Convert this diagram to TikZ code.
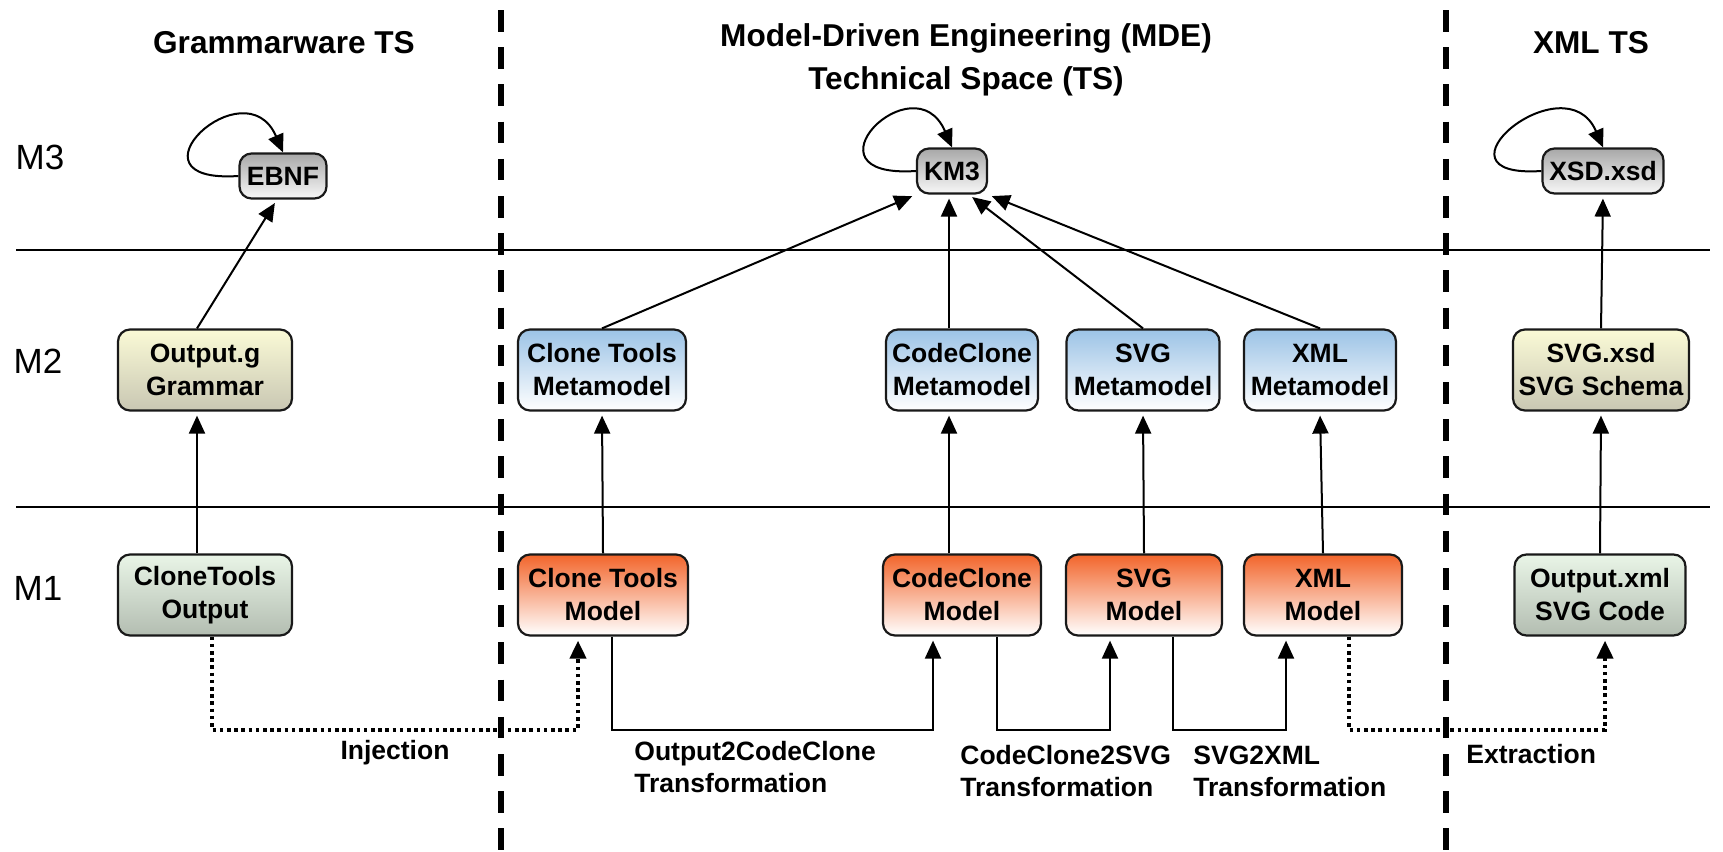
\documentclass[tikz,border=0pt]{standalone}
\usepackage{fontspec}
\setmainfont{Liberation Sans}
\usetikzlibrary{arrows.meta}
\definecolor{mmblue}{HTML}{9CC3E6}
\definecolor{mdorange}{HTML}{F2652B}
\definecolor{gtop}{HTML}{A8A8A8}
\definecolor{ytop}{HTML}{FAFAD6}
\definecolor{ybot}{HTML}{C9C7B3}
\definecolor{ntop}{HTML}{E9F5E7}
\definecolor{nbot}{HTML}{B3BDB1}
\tikzset{box/.style={draw=black!90, line width=1.1pt, rounded corners=6pt,
  align=center, inner sep=1pt, minimum height=40.5pt,
  font=\bfseries\fontsize{13.25}{16.5}\selectfont}}
\tikzset{topbox/.style={box, minimum height=22.5pt, top color=gtop, bottom color=white!97!black}}
\tikzset{metabox/.style={box, top color=mmblue, bottom color=white}}
\tikzset{modelbox/.style={box, top color=mdorange, bottom color=white}}
\tikzset{grambox/.style={box, top color=ytop, bottom color=ybot}}
\tikzset{codebox/.style={box, top color=ntop, bottom color=nbot}}
\tikzset{arr/.style={->, line width=1pt, shorten >=2pt}}
\tikzset{dotarr/.style={->, line width=2pt, dash pattern=on 1.8pt off 1.8pt, shorten >=2pt}}
\tikzset{tsline/.style={line width=2.8pt, dash pattern=on 10.8pt off 7.8pt}}
\tikzset{sepline/.style={line width=0.8pt}}
\tikzset{ttl/.style={font=\bfseries\fontsize{15.8}{21.5}\selectfont, align=center, inner sep=0pt}}
\tikzset{lvl/.style={font=\fontsize{17.5}{20}\selectfont, inner sep=0pt}}
\tikzset{lbl/.style={font=\bfseries\fontsize{13.25}{16}\selectfont, align=left, inner sep=0pt}}

\begin{document}
\begin{tikzpicture}[x=0.5pt, y=-0.5pt, >={Triangle[length=9pt,width=8pt]}]
      \useasboundingbox (0,0) rectangle (1723,851);

      \draw [sepline] (16,250) -- (1710,250);
      \draw [sepline] (16,507) -- (1710,507);
      \draw [tsline] (501,10) -- (501,851);
      \draw [tsline] (1446,10) -- (1446,851);

      \node [ttl] (gts) at (284,43) {Grammarware TS};
      \node [ttl] (mts) at (966,60) {Model-Driven Engineering (MDE)\\Technical Space (TS)};
      \node [ttl] (xts) at (1591,43) {XML TS};

      \node [lvl] (m3) at (40,157) {M3};
      \node [lvl] (m2) at (38,361) {M2};
      \node [lvl] (m1) at (38,588) {M1};

      \node [topbox, minimum width=43.5pt] (ebnf) at (283,176) {EBNF};
      \node [topbox, minimum width=35pt] (km3) at (952,171) {KM3};
      \node [topbox, minimum width=60.5pt] (xsd) at (1603,171) {XSD.xsd};

      \node [grambox, minimum width=87pt] (og) at (205,370) {Output.g\\Grammar};
      \node [metabox, minimum width=84pt] (ctmm) at (602,370) {Clone Tools\\Metamodel};
      \node [metabox, minimum width=76pt] (ccmm) at (962,370) {CodeClone\\Metamodel};
      \node [metabox, minimum width=76.5pt] (svgmm) at (1143,370) {SVG\\Metamodel};
      \node [metabox, minimum width=76pt] (xmlmm) at (1320,370) {XML\\Metamodel};
      \node [grambox, minimum width=88pt] (svgxsd) at (1601,370) {SVG.xsd\\SVG Schema};

      \node [codebox, minimum width=87pt] (cto) at (205,595) {CloneTools\\Output};
      \node [modelbox, minimum width=85pt] (ctm) at (603,595) {Clone Tools\\Model};
      \node [modelbox, minimum width=79pt] (ccm) at (962,595) {CodeClone\\Model};
      \node [modelbox, minimum width=78pt] (svgm) at (1144,595) {SVG\\Model};
      \node [modelbox, minimum width=79pt] (xmlm) at (1323,595) {XML\\Model};
      \node [codebox, minimum width=85.5pt] (oxml) at (1600,595) {Output.xml\\SVG Code};

      \draw [arr, shorten >=0pt] (ebnf.west) .. controls +(-120,8) and +(-38,-88) .. (ebnf.north);
      \draw [arr, shorten >=0pt] (km3.west) .. controls +(-120,8) and +(-38,-88) .. (km3.north);
      \draw [arr, shorten >=0pt] (xsd.west) .. controls +(-120,8) and +(-38,-88) .. (xsd.north);

      \draw [arr] ([xshift=-4pt]og.north) -- ([xshift=-3pt]ebnf.south);
      \draw [arr] (ctmm.north) -- (km3.south west);
      \draw [arr] ([xshift=-6.5pt]ccmm.north) -- ([xshift=-1.5pt]km3.south);
      \draw [arr] (svgmm.north) -- ([xshift=8.5pt]km3.south);
      \draw [arr] (xmlmm.north) -- (km3.south east);
      \draw [arr] (svgxsd.north) -- (xsd.south);

      \draw [arr] ([xshift=-4pt]cto.north) -- ([xshift=-4pt]og.south);
      \draw [arr] (ctm.north) -- (ctmm.south);
      \draw [arr] ([xshift=-6.5pt]ccm.north) -- ([xshift=-6.5pt]ccmm.south);
      \draw [arr] (svgm.north) -- (svgmm.south);
      \draw [arr] (xmlm.north) -- (xmlmm.south);
      \draw [arr] (oxml.north) -- (svgxsd.south);

      \draw [dotarr] ([xshift=3.5pt]cto.south) -- ++(0,93) -| ([xshift=-12.5pt]ctm.south);
      \draw [arr] ([xshift=4.5pt]ctm.south) -- ++(0,93) -| ([xshift=-14.5pt]ccm.south);
      \draw [arr] ([xshift=17.5pt]ccm.south) -- ++(0,93) -| ([xshift=-17pt]svgm.south);
      \draw [arr] ([xshift=14.5pt]svgm.south) -- ++(0,93) -| ([xshift=-18.5pt]xmlm.south);
      \draw [dotarr] ([xshift=13pt]xmlm.south) -- ++(0,93) -| ([xshift=2.5pt]oxml.south);

      \node [lbl] (inj) at (395,753) {Injection};
      \node [lbl, anchor=west] (o2cc) at (634,767) {Output2CodeClone\\Transformation};
      \node [lbl, anchor=west] (cc2svg) at (960,771) {CodeClone2SVG\\Transformation};
      \node [lbl, anchor=west] (svg2xml) at (1193,771) {SVG2XML\\Transformation};
      \node [lbl, anchor=west] (extr) at (1466,754) {Extraction};
    \end{tikzpicture}
\end{document}
